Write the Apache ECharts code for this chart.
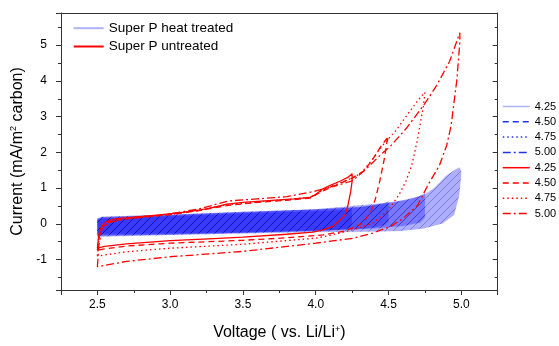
<!DOCTYPE html>
<html>
<head>
<meta charset="utf-8">
<script src="https://cdn.jsdelivr.net/npm/echarts@6/dist/echarts.min.js"></script>
<style>
html,body{margin:0;padding:0;background:#fff;}
#chart{width:559px;height:346px;}
</style>
</head>
<body>
<div id="chart"></div>
<script>
// ---- Data: Super P untreated (red CV loops) ----
const rV425 = [2.50,2.51,2.53,2.56,2.62,2.75,2.93,3.10,3.25,3.39,3.50,3.70,3.85,3.96,4.00,4.05,4.10,4.17,4.22,4.25,4.25,4.24,4.22,4.20,4.17,4.12,4.05,3.98,3.80,3.50,3.30,3.00,2.70,2.55,2.50];
const rI425 = [-0.68,-0.30,-0.05,0.06,0.14,0.19,0.25,0.33,0.42,0.55,0.60,0.66,0.70,0.74,0.82,0.98,1.08,1.20,1.30,1.40,1.20,0.90,0.50,0.25,0.12,-0.06,-0.17,-0.23,-0.29,-0.37,-0.41,-0.47,-0.56,-0.63,-0.68];

const rV450 = [2.50,2.51,2.53,2.57,2.65,2.80,3.00,3.20,3.40,3.60,3.80,3.96,4.02,4.08,4.15,4.25,4.33,4.39,4.45,4.50,4.49,4.47,4.44,4.41,4.38,4.34,4.30,4.20,4.05,3.80,3.50,3.00,2.70,2.50];
const rI450 = [-0.73,-0.35,-0.08,0.04,0.12,0.18,0.26,0.37,0.52,0.60,0.66,0.72,0.86,0.98,1.10,1.28,1.48,1.80,2.18,2.45,2.30,1.80,1.20,0.70,0.35,0.12,-0.03,-0.20,-0.31,-0.39,-0.46,-0.54,-0.62,-0.73];

const rV475 = [2.50,2.51,2.53,2.57,2.65,2.80,3.00,3.20,3.40,3.60,3.80,3.96,4.02,4.08,4.15,4.25,4.31,4.38,4.45,4.55,4.65,4.72,4.75,4.74,4.72,4.70,4.66,4.62,4.57,4.49,4.39,4.26,4.10,4.00,3.50,3.00,2.70,2.50];
const rI475 = [-0.90,-0.45,-0.10,0.03,0.12,0.18,0.26,0.38,0.54,0.62,0.68,0.74,0.88,1.00,1.12,1.28,1.42,1.75,2.15,2.61,3.17,3.55,3.68,3.30,2.85,2.38,1.64,1.20,0.80,0.34,0.02,-0.16,-0.32,-0.40,-0.57,-0.68,-0.78,-0.90];

const rV500 = [2.50,2.51,2.53,2.58,2.70,3.00,3.20,3.40,3.60,3.80,3.98,4.05,4.15,4.25,4.35,4.45,4.51,4.62,4.74,4.83,4.92,4.99,4.99,4.97,4.93,4.90,4.85,4.77,4.70,4.60,4.51,4.39,4.26,4.00,3.50,3.00,2.70,2.50];
const rI500 = [-1.20,-0.60,-0.15,0.04,0.15,0.28,0.42,0.64,0.70,0.76,0.90,0.98,1.08,1.20,1.55,1.95,2.16,2.66,3.31,3.87,4.55,5.35,5.10,4.05,2.75,2.20,1.64,1.08,0.52,0.15,-0.08,-0.26,-0.40,-0.54,-0.77,-0.92,-1.05,-1.20];

// ---- Data: Super P heat treated (blue filled CV loops) ----
const hV425 = [2.50,2.50,2.53,2.70,3.00,3.50,4.00,4.20,4.25,4.25,4.23,4.15,4.00,3.50,3.00,2.70,2.50];
const hI425 = [-0.28,0.10,0.15,0.18,0.22,0.30,0.36,0.39,0.41,0.00,-0.12,-0.17,-0.19,-0.24,-0.27,-0.29,-0.28];

const hV450 = [2.50,2.50,2.53,3.00,3.50,4.00,4.30,4.40,4.47,4.50,4.50,4.47,4.40,4.30,4.00,3.50,3.00,2.50];
const hI450 = [-0.32,0.12,0.17,0.24,0.32,0.40,0.46,0.52,0.58,0.63,0.06,-0.04,-0.10,-0.14,-0.19,-0.25,-0.29,-0.32];

const hV475 = [2.50,2.50,2.53,3.00,3.50,4.00,4.30,4.50,4.62,4.70,4.75,4.75,4.72,4.60,4.40,4.00,3.50,3.00,2.50];
const hI475 = [-0.34,0.14,0.19,0.25,0.33,0.40,0.47,0.58,0.68,0.76,0.86,0.18,0.04,-0.06,-0.13,-0.19,-0.25,-0.30,-0.34];

const hV500 = [2.50,2.50,2.53,3.00,3.50,4.00,4.44,4.62,4.74,4.81,4.90,4.96,4.99,5.00,4.99,4.98,4.95,4.87,4.74,4.58,4.30,4.00,3.50,3.00,2.50];
const hI500 = [-0.36,0.15,0.20,0.26,0.34,0.41,0.57,0.66,0.80,0.99,1.36,1.52,1.58,1.45,0.95,0.71,0.25,0.01,-0.13,-0.20,-0.22,-0.23,-0.27,-0.31,-0.36];

// ---- Labels ----
const sweepLabels = ['4.25','4.50','4.75','5.00'];
const groupLabels = ['Super P heat treated','Super P untreated'];

const redV = [rV425, rV450, rV475, rV500];
const redI = [rI425, rI450, rI475, rI500];
const blueV = [hV425, hV450, hV475, hV500];
const blueI = [hI425, hI450, hI475, hI500];

function pairs(v, i) { return v.map((x, k) => [x, i[k]]); }

// hatch pattern
const pc = document.createElement('canvas');
pc.width = 8; pc.height = 8;
const pctx = pc.getContext('2d');
pctx.fillStyle = 'rgba(10,10,255,0.33)';
pctx.fillRect(0, 0, 8, 8);
pctx.strokeStyle = 'rgba(0,0,110,0.35)';
pctx.lineWidth = 0.8;
pctx.beginPath();
pctx.moveTo(-1, 9); pctx.lineTo(9, -1);
pctx.moveTo(-1, 1); pctx.lineTo(1, -1);
pctx.moveTo(7, 9); pctx.lineTo(9, 7);
pctx.stroke();
const hatch = { image: pc, repeat: 'repeat' };

const dashTypes = ['solid', [6, 4], [1.5, 3], [8, 3, 2, 3]];
const BLUE_LIGHT = '#aeb2f6';
const BLUE = '#2233ee';
const RED = '#ff0000';

const series = [];
// blue fills
blueV.forEach((v, k) => {
  const data = pairs(v, blueI[k]);
  series.push({
    type: 'custom',
    name: 'fill ' + sweepLabels[k],
    z: 1,
    encode: { x: 0, y: 1 },
    data: data,
    renderItem: function (params, api) {
      if (params.dataIndex !== 0) return null;
      const pts = data.map(p => api.coord(p));
      return { type: 'polygon', shape: { points: pts }, style: { fill: hatch, stroke: null } };
    }
  });
});
// blue loop outlines (faint; used for legend keys)
blueV.forEach((v, k) => {
  series.push({
    type: 'line',
    name: 'HT ' + sweepLabels[k],
    z: 2,
    symbol: 'none',
    showSymbol: false,
    data: pairs(v, blueI[k]),
    lineStyle: { color: k === 0 ? BLUE_LIGHT : BLUE, width: 0.6, type: dashTypes[k], opacity: 0.12 },
    itemStyle: { color: k === 0 ? BLUE_LIGHT : BLUE }
  });
});
// red lines
redV.forEach((v, k) => {
  series.push({
    type: 'line',
    name: 'UT ' + sweepLabels[k],
    z: 3,
    symbol: 'none',
    showSymbol: false,
    data: pairs(v, redI[k]),
    lineStyle: { color: RED, width: 1.3, type: dashTypes[k] },
    itemStyle: { color: RED }
  });
});
// legend-only group entries
series.push({ type: 'line', name: groupLabels[0], data: [], symbol: 'none', lineStyle: { color: BLUE_LIGHT, width: 1.5 }, itemStyle: { color: BLUE_LIGHT } });
series.push({ type: 'line', name: groupLabels[1], data: [], symbol: 'none', lineStyle: { color: RED, width: 1.5 }, itemStyle: { color: RED } });

const rightLegendData = [];
sweepLabels.forEach((s, k) => {
  rightLegendData.push({
    name: 'HT ' + s,
    lineStyle: { color: k === 0 ? BLUE_LIGHT : BLUE, width: 1.5, type: dashTypes[k], opacity: 1 }
  });
});
sweepLabels.forEach((s, k) => {
  rightLegendData.push({ name: 'UT ' + s, lineStyle: { width: 1.5 } });
});

const FONT = 'Liberation Sans, Arial, sans-serif';
const hiddenSymbol = { opacity: 0, color: 'transparent', borderWidth: 0 };
const chart = echarts.init(document.getElementById('chart'), null, { renderer: 'canvas' });
chart.setOption({
  animation: false,
  backgroundColor: '#fff',
  grid: { left: 61, right: 61.3, top: 13, bottom: 54.3 },
  legend: [
    {
      orient: 'vertical', left: 67.7, top: 16.2, padding: 5,
      itemWidth: 30, itemHeight: 14, itemGap: 4.3,
      selectedMode: false,
      itemStyle: hiddenSymbol,
      data: groupLabels,
      textStyle: { fontFamily: FONT, fontSize: 13.5, color: '#000', lineHeight: 14 }
    },
    {
      orient: 'vertical', left: 497, top: 94.5, padding: 5,
      itemWidth: 27, itemHeight: 14, itemGap: 1.3,
      selectedMode: false,
      itemStyle: hiddenSymbol,
      data: rightLegendData,
      formatter: function (n) { return n.split(' ')[1]; },
      textStyle: { fontFamily: FONT, fontSize: 11, color: '#000', lineHeight: 14 }
    }
  ],
  xAxis: [
    {
      type: 'value', position: 'bottom', min: 2.25, max: 5.25, splitNumber: 6,
      axisLine: { show: true, onZero: false, lineStyle: { color: '#333', width: 1 } },
      axisTick: { show: true, inside: false, length: 5, lineStyle: { color: '#333' } },
      minorTick: { show: true, splitNumber: 2, length: 3, lineStyle: { color: '#333' } },
      splitLine: { show: false },
      axisLabel: { fontFamily: FONT, fontSize: 12, color: '#000', margin: 9, showMinLabel: false, showMaxLabel: false,
        formatter: function (v) { return v.toFixed(1); } },
      name: 'Voltage ( vs. Li/Li{sup|+})',
      nameLocation: 'middle', nameGap: 35,
      nameTextStyle: { fontFamily: FONT, fontSize: 16, color: '#000',
        rich: { sup: { fontFamily: FONT, fontSize: 9, verticalAlign: 'top', color: '#000', padding: [0, 0, 6, 0] } } }
    },
    {
      type: 'value', position: 'top', min: 2.25, max: 5.25,
      axisLine: { show: true, onZero: false, lineStyle: { color: '#333', width: 1 } },
      axisTick: { show: false }, axisLabel: { show: false }, splitLine: { show: false }
    }
  ],
  yAxis: [
    {
      type: 'value', position: 'left', min: -1.85, max: 5.9, splitNumber: 8,
      axisLine: { show: true, onZero: false, lineStyle: { color: '#333', width: 1 } },
      axisTick: { show: true, inside: false, length: 5, lineStyle: { color: '#333' } },
      minorTick: { show: true, splitNumber: 2, length: 3, lineStyle: { color: '#333' } },
      splitLine: { show: false },
      axisLabel: { fontFamily: FONT, fontSize: 12, color: '#000', margin: 14, showMinLabel: false, showMaxLabel: false },
      name: 'Current (mA/m{sup|2} carbon)',
      nameLocation: 'middle', nameGap: 33,
      nameTextStyle: { fontFamily: FONT, fontSize: 16, color: '#000',
        rich: { sup: { fontFamily: FONT, fontSize: 9, verticalAlign: 'top', color: '#000', padding: [0, 0, 6, 0] } } }
    },
    {
      type: 'value', position: 'right', min: -1.85, max: 5.9, splitNumber: 8,
      axisLine: { show: true, onZero: false, lineStyle: { color: '#333', width: 1 } },
      axisTick: { show: true, inside: true, length: 5, lineStyle: { color: '#333' } },
      minorTick: { show: true, splitNumber: 2, length: 3, lineStyle: { color: '#333' } },
      splitLine: { show: false },
      axisLabel: { show: false }
    }
  ],
  series: series
});
</script>
</body>
</html>
